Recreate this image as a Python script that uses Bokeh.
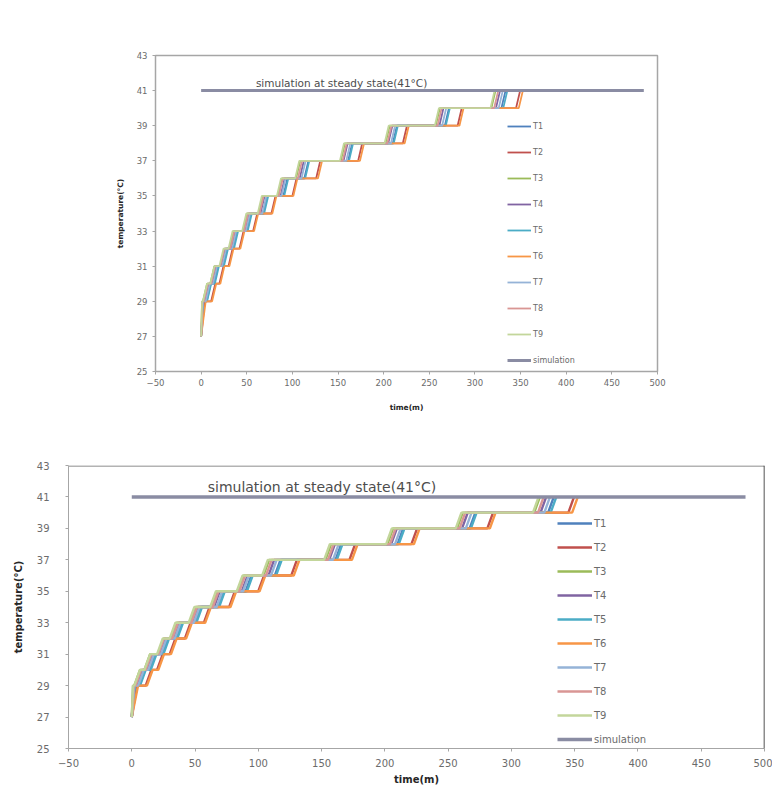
from bokeh.plotting import figure
from bokeh.layouts import column, row, Spacer
from bokeh.models import Range1d, Legend, LegendItem, Label, Span, FixedTicker
from bokeh.embed import file_html
from bokeh.resources import INLINE

# ---------------- data ----------------
series_names = ["T1", "T2", "T3", "T4", "T5", "T6", "T7", "T8", "T9"]
start_temp = 27
first_level = 29
# time (min) at which each series first reaches 29 °C
first_rise = {"T1": 2.5, "T2": 4, "T3": 1, "T4": 2, "T5": 2.5, "T6": 5, "T7": 2, "T8": 1.5, "T9": 1}
# start times (min) of the 1 °C steps 29->30, 30->31, ... 40->41
T1_steps = [6, 14, 24, 35, 50, 68, 90, 113, 161, 210, 267, 329]
T2_steps = [11, 20, 30, 42, 57, 77, 100, 126, 172, 221, 281, 345]
T3_steps = [2, 10, 21, 31, 46, 63, 84, 104, 153, 202, 257, 318]
T4_steps = [4, 12, 22, 33, 48, 65, 87, 108, 156, 205, 261, 323]
T5_steps = [6.5, 15, 25, 36, 51, 69, 91, 114, 162, 211, 268, 331]
T6_steps = [12, 21, 31, 43, 58, 78, 101, 128, 174, 223, 283, 348]
T7_steps = [5, 13, 23, 34, 49, 67, 88, 110, 159, 208, 264, 326]
T8_steps = [3, 11, 21, 32, 47, 64, 85, 106, 155, 204, 259, 321]
T9_steps = [2, 10, 20, 30, 45, 62, 83, 103, 152, 201, 256, 317]
step_duration = 4.5  # minutes for each 1 °C rise
sim_time = [0, 485]
sim_temp = [41, 41]
sim_note = "simulation at steady state(41°C)"
x_ticks = [-50, 0, 50, 100, 150, 200, 250, 300, 350, 400, 450, 500]
y_ticks = [25, 27, 29, 31, 33, 35, 37, 39, 41, 43]

steps = {"T1": T1_steps, "T2": T2_steps, "T3": T3_steps, "T4": T4_steps, "T5": T5_steps,
         "T6": T6_steps, "T7": T7_steps, "T8": T8_steps, "T9": T9_steps}

colors = {"T1": "#4F81BD", "T2": "#C0504D", "T3": "#9BBB59", "T4": "#8064A2", "T5": "#4BACC6",
          "T6": "#F79646", "T7": "#95B3D7", "T8": "#D99694", "T9": "#C3D69B"}
sim_color = "#8A8CA3"


def series_path(name):
    xs = [0, first_rise[name]]
    ys = [start_temp, first_level]
    level = first_level
    for s in steps[name]:
        xs += [s, s + step_duration]
        ys += [level, level + 1]
        level += 1
    return xs, ys


def make_fig(width, height, mb, fonts, lw, sim_lw, legend_loc, legend_pitch, glyph_w,
             note_font, note_offset, label_std_y, tick_std_y, label_std_x, tick_std_x):
    tick_fs, axis_fs, leg_fs = fonts
    p = figure(width=width, height=height, output_backend="svg", toolbar_location=None,
               x_range=Range1d(-50, 500), y_range=Range1d(25, 43),
               min_border_left=mb[0], min_border_right=mb[1],
               min_border_top=mb[2], min_border_bottom=mb[3])
    p.xgrid.visible = False
    p.ygrid.visible = False
    p.background_fill_color = "white"
    p.border_fill_color = "white"
    p.outline_line_color = "#A6A6A6"
    p.outline_line_width = 1.5
    p.xaxis.ticker = FixedTicker(ticks=x_ticks)
    p.yaxis.ticker = FixedTicker(ticks=y_ticks)
    for ax in (p.xaxis, p.yaxis):
        ax.minor_tick_line_color = None
        ax.major_tick_in = 0
        ax.major_tick_out = 3
        ax.axis_line_color = "#A6A6A6"
        ax.major_tick_line_color = "#A6A6A6"
        ax.major_label_text_font = "DejaVu Sans"
        ax.major_label_text_font_size = tick_fs
        ax.major_label_text_color = "#6B6B6B"
        ax.axis_label_text_font = "DejaVu Sans"
        ax.axis_label_text_font_size = axis_fs
        ax.axis_label_text_font_style = "bold"
        ax.axis_label_text_color = "#262626"
    p.xaxis.axis_label = "time(m)"
    p.yaxis.axis_label = "temperature(°C)"
    p.xaxis.major_label_standoff = tick_std_x
    p.xaxis.axis_label_standoff = label_std_x
    p.yaxis.major_label_standoff = tick_std_y
    p.yaxis.axis_label_standoff = label_std_y

    rends = {}
    for name in series_names:
        xs, ys = series_path(name)
        rends[name] = p.line(xs, ys, line_color=colors[name], line_width=lw)
    rends["simulation"] = p.line(sim_time, sim_temp, line_color=sim_color, line_width=sim_lw)

    items = [LegendItem(label=n, renderers=[rends[n]]) for n in series_names + ["simulation"]]
    leg = Legend(items=items, location=legend_loc, glyph_width=glyph_w,
                 glyph_height=legend_pitch, label_height=legend_pitch, spacing=0,
                 padding=0, margin=0, label_standoff=2,
                 background_fill_alpha=0, border_line_color=None,
                 label_text_font="DejaVu Sans", label_text_font_size=leg_fs,
                 label_text_color="#6B6B6B")
    p.add_layout(leg)

    p.add_layout(Label(x=60, y=41, text=sim_note, text_font="DejaVu Sans",
                       text_font_size=note_font, text_color="#4D4D4D",
                       text_baseline="bottom", y_offset=note_offset))
    return p


# top chart: frame x 155..657, y 55..371 (page)
p1 = make_fig(582, 421, (57, 23, 55, 50), ("8.5px", "7.5px", "8px"), 1.8, 3,
              (352, -2), 26, 24, "10.5px", 2, 9, 5, 14, 4)
# bottom chart: frame x 68..764, y 465..750 (page)
p2 = make_fig(772, 366, (68, 8, 44, 38), ("10px", "10px", "10px"), 2.4, 3.5,
              (489, -3), 24, 35, "14px", 2, 10, 16, 4, 7)
p2.outline_line_color = None
p2.add_layout(Span(location=43, dimension="width", line_color="#B3B3B3", line_width=3))
p2.add_layout(Span(location=500, dimension="height", line_color="#1A1A1A", line_width=1.5))

layout = column(row(Spacer(width=98, height=421), p1), p2)

open("out.html", "w").write(file_html(layout, INLINE))
